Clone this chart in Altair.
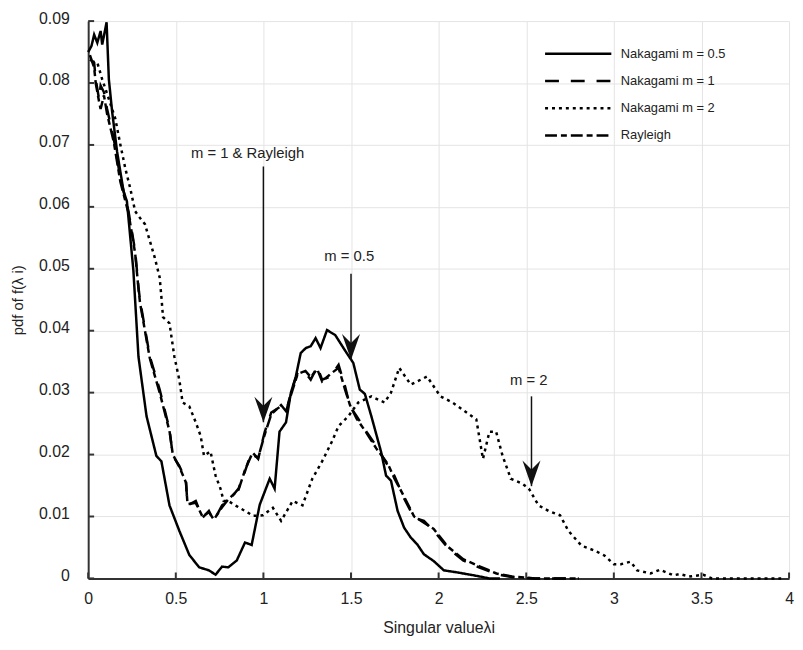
import altair as alt
import pandas as pd

# ---------------- data ----------------
series_names = ["Nakagami m = 0.5", "Nakagami m = 1", "Nakagami m = 2", "Rayleigh"]

x_m05 = [0.0, 0.019, 0.034, 0.052, 0.071, 0.08, 0.105, 0.118, 0.137, 0.165, 0.202, 0.221,
         0.258, 0.268, 0.287, 0.333, 0.389, 0.418, 0.464, 0.52, 0.577, 0.633, 0.689, 0.727,
         0.764, 0.80, 0.848, 0.895, 0.933, 0.979, 1.036, 1.064, 1.092, 1.129, 1.157, 1.185,
         1.213, 1.242, 1.27, 1.298, 1.326, 1.363, 1.41, 1.466, 1.513, 1.55, 1.579, 1.616,
         1.672, 1.70, 1.728, 1.766, 1.803, 1.841, 1.878, 1.916, 1.972, 2.03, 2.10, 2.2, 2.29, 2.35]
y_m05 = [0.085, 0.086, 0.0878, 0.0865, 0.0884, 0.0862, 0.0898, 0.0806, 0.0753, 0.0689, 0.0625, 0.0609,
         0.0497, 0.0449, 0.0358, 0.0262, 0.0198, 0.0189, 0.0118, 0.0077, 0.0038, 0.0018, 0.0013, 0.0006,
         0.0019, 0.0018, 0.0029, 0.0058, 0.0054, 0.0119, 0.0161, 0.0145, 0.0237, 0.0252, 0.030, 0.0326,
         0.0364, 0.0372, 0.0375, 0.0388, 0.0372, 0.0401, 0.0393, 0.0368, 0.0348, 0.0305, 0.0298, 0.0262,
         0.0204, 0.0166, 0.0158, 0.0109, 0.0082, 0.0066, 0.0055, 0.0039, 0.0028, 0.0013, 0.001, 0.0005, 0.0, 0.0]

x_m1 = [0.01, 0.034, 0.043, 0.062, 0.071, 0.09, 0.108, 0.146, 0.184, 0.23, 0.268, 0.287, 0.296,
        0.352, 0.408, 0.464, 0.483, 0.52, 0.558, 0.567, 0.614, 0.652, 0.689, 0.717, 0.764, 0.80,
        0.858, 0.895, 0.933, 0.97, 1.007, 1.045, 1.101, 1.129, 1.157, 1.195, 1.24, 1.27, 1.307,
        1.335, 1.382, 1.429, 1.466, 1.494, 1.532, 1.588, 1.644, 1.71, 1.747, 1.803, 1.86, 1.916,
        1.972, 2.05, 2.14, 2.23, 2.33, 2.42, 2.55, 2.8]
y_m1 = [0.0838, 0.0833, 0.0806, 0.0774, 0.0796, 0.0785, 0.0758, 0.071, 0.0646, 0.0593, 0.0529, 0.047, 0.0449,
        0.0358, 0.0305, 0.0241, 0.0198, 0.0182, 0.0157, 0.0118, 0.0125, 0.0098, 0.0109, 0.0093, 0.0118, 0.0125,
        0.0145, 0.0173, 0.0205, 0.0193, 0.0236, 0.0268, 0.0278, 0.0268, 0.030, 0.0332, 0.0332, 0.0321, 0.0342,
        0.0321, 0.0326, 0.0345, 0.031, 0.0278, 0.0262, 0.0237, 0.0214, 0.0182, 0.0166, 0.0129, 0.0098, 0.0093,
        0.0077, 0.005, 0.0029, 0.0018, 0.0007, 0.0002, 0.0, 0.0]

x_m2 = [0.02, 0.052, 0.08, 0.118, 0.155, 0.184, 0.212, 0.24, 0.268, 0.296, 0.324, 0.352, 0.38, 0.408,
        0.418, 0.427, 0.464, 0.492, 0.52, 0.539, 0.577, 0.614, 0.642, 0.661, 0.698, 0.727, 0.755, 0.773,
        0.80, 0.839, 0.895, 0.942, 0.998, 1.054, 1.101, 1.167, 1.223, 1.279, 1.335, 1.391, 1.429, 1.485,
        1.541, 1.616, 1.691, 1.728, 1.775, 1.841, 1.934, 2.01, 2.08, 2.215, 2.234, 2.253, 2.29, 2.328,
        2.365, 2.412, 2.478, 2.515, 2.57, 2.627, 2.693, 2.74, 2.815, 2.89, 2.946, 3.00, 3.04, 3.096,
        3.133, 3.21, 3.264, 3.34, 3.376, 3.43, 3.51, 3.56, 3.7, 3.955]
y_m2 = [0.0835, 0.0833, 0.0806, 0.0774, 0.0742, 0.070, 0.0662, 0.063, 0.0593, 0.0582, 0.0572, 0.0545, 0.0518, 0.0486,
        0.0454, 0.0422, 0.0412, 0.0358, 0.0321, 0.0284, 0.0278, 0.0252, 0.023, 0.0198, 0.0205, 0.0166, 0.0145, 0.0125,
        0.0125, 0.0118, 0.0109, 0.0101, 0.0102, 0.0114, 0.0093, 0.0125, 0.0118, 0.0161, 0.0189, 0.0221, 0.0246, 0.0262,
        0.0284, 0.0294, 0.0284, 0.030, 0.034, 0.0313, 0.0326, 0.0294, 0.0284, 0.0257, 0.0225, 0.0193, 0.0237, 0.0237,
        0.0198, 0.0161, 0.0153, 0.0145, 0.0118, 0.0109, 0.0102, 0.0077, 0.0053, 0.0045, 0.0037, 0.0023, 0.0023, 0.0027,
        0.0013, 0.0008, 0.0014, 0.0005, 0.0007, 0.0003, 0.0006, 0.0, 0.0, 0.0]

x_ray = x_m1
y_ray = [0.0845, 0.0825, 0.0800, 0.0770, 0.0758, 0.0780, 0.0750, 0.0705, 0.0640, 0.0590, 0.0525, 0.0468, 0.0445,
         0.0355, 0.0300, 0.0238, 0.0200, 0.0180, 0.0155, 0.0120, 0.0122, 0.0100, 0.0107, 0.0095, 0.0115, 0.0128,
         0.0143, 0.0175, 0.0200, 0.0195, 0.0232, 0.0265, 0.0280, 0.0270, 0.0296, 0.0330, 0.0335, 0.0325, 0.0338,
         0.0318, 0.0330, 0.0340, 0.0305, 0.0280, 0.0258, 0.0235, 0.0210, 0.0185, 0.0162, 0.0132, 0.0100, 0.0090,
         0.0080, 0.0052, 0.0031, 0.0020, 0.0008, 0.0003, 0.0, 0.0]

x_ticks = [0, 0.5, 1, 1.5, 2, 2.5, 3, 3.5, 4]
y_ticks = [0, 0.01, 0.02, 0.03, 0.04, 0.05, 0.06, 0.07, 0.08, 0.09]

ann_labels = ["m = 1 & Rayleigh", "m = 0.5", "m = 2"]
ann_text_x = [0.91, 1.49, 2.514]
ann_text_y = [0.0687, 0.0520, 0.0321]
arrow_x = [1.0, 1.5, 2.53]
arrow_top = [0.0665, 0.0492, 0.0294]
arrow_tip = [0.0252, 0.0353, 0.0149]

# ---------------- build tables ----------------
rows = []
for name, xs, ys in zip(series_names, [x_m05, x_m1, x_m2, x_ray], [y_m05, y_m1, y_m2, y_ray]):
    for i, (a, b) in enumerate(zip(xs, ys)):
        rows.append({"series": name, "x": a, "y": b, "order": i})
df = pd.DataFrame(rows)

ann_df = pd.DataFrame({"x": ann_text_x, "y": ann_text_y, "label": ann_labels})
arr_df = pd.DataFrame({"x": arrow_x, "y": arrow_top, "y2": arrow_tip})
tip_df = pd.DataFrame({"x": arrow_x, "y": arrow_tip})
xt_df = pd.DataFrame({"x": x_ticks})
yt_df = pd.DataFrame({"y": y_ticks})

W, H = 708, 563
FONT = "Liberation Sans"
TXT = "#222222"

xscale = alt.Scale(domain=[0, 4], nice=False, zero=False)
yscale = alt.Scale(domain=[0, 0.09], nice=False)

x_axis = alt.Axis(values=x_ticks, format="~g", title="Singular valueλi", grid=True,
                  gridColor="#e4e4e4", ticks=False, domainColor="#333333", domainWidth=2,
                  labelFont=FONT, labelFontSize=16, labelColor=TXT, labelPadding=12,
                  titleFont=FONT, titleFontSize=16, titleFontWeight="normal", titleColor=TXT,
                  titlePadding=14, labelFlush=False)
y_axis = alt.Axis(values=y_ticks, format="~g", title="pdf of f(λ i)", grid=True,
                  gridColor="#e4e4e4", ticks=False, domainColor="#333333", domainWidth=2,
                  labelFont=FONT, labelFontSize=16, labelColor=TXT, labelPadding=19,
                  labelOffset=-3,
                  titleFont=FONT, titleFontSize=15, titleFontWeight="normal", titleColor=TXT,
                  titlePadding=13, labelFlush=False)

lines = alt.Chart(df).mark_line(color="black", strokeWidth=2.5).encode(
    x=alt.X("x:Q", scale=xscale, axis=x_axis),
    y=alt.Y("y:Q", scale=yscale, axis=y_axis),
    strokeDash=alt.StrokeDash(
        "series:N",
        scale=alt.Scale(domain=series_names,
                        range=[[1, 0], [14, 12], [3, 4], [12, 4, 6, 4]]),
        legend=alt.Legend(title=None, orient="none", legendX=485, legendY=23,
                          symbolType="M-4,0H4", symbolSize=280, symbolStrokeWidth=2.5,
                          symbolStrokeColor="black", symbolFillColor="black",
                          labelFont=FONT, labelFontSize=13, labelColor=TXT,
                          labelOffset=33, rowPadding=10.5, padding=0),
    ),
    order="order:Q",
)

xticks_layer = alt.Chart(xt_df).mark_rule(color="#333333", strokeWidth=2).encode(
    x=alt.X("x:Q", scale=xscale), y=alt.value(H), y2=alt.value(H - 6))
yticks_layer = alt.Chart(yt_df).mark_rule(color="#333333", strokeWidth=2).encode(
    y=alt.Y("y:Q", scale=yscale), x=alt.value(0), x2=alt.value(6))

arrows = alt.Chart(arr_df).mark_rule(color="#111111", strokeWidth=1.5).encode(
    x=alt.X("x:Q", scale=xscale), y=alt.Y("y:Q", scale=yscale), y2="y2:Q")
heads = alt.Chart(tip_df).mark_point(
    shape="M0,0L-0.7,-2L0,-1.3L0.7,-2Z", filled=True, color="#111111", opacity=1,
    size=676, strokeWidth=0).encode(
    x=alt.X("x:Q", scale=xscale), y=alt.Y("y:Q", scale=yscale))
texts = alt.Chart(ann_df).mark_text(font=FONT, fontSize=15, color=TXT, baseline="middle",
                                    align="center").encode(
    x=alt.X("x:Q", scale=xscale), y=alt.Y("y:Q", scale=yscale), text="label:N")

chart = alt.layer(lines, xticks_layer, yticks_layer, arrows, heads, texts).properties(
    width=W, height=H,
    autosize=alt.AutoSizeParams(type="none"),
    padding={"left": 81, "top": 10, "right": 6, "bottom": 60},
).configure_view(stroke=None)

chart.save("out.html", embed_options={"renderer": "svg", "actions": False})
